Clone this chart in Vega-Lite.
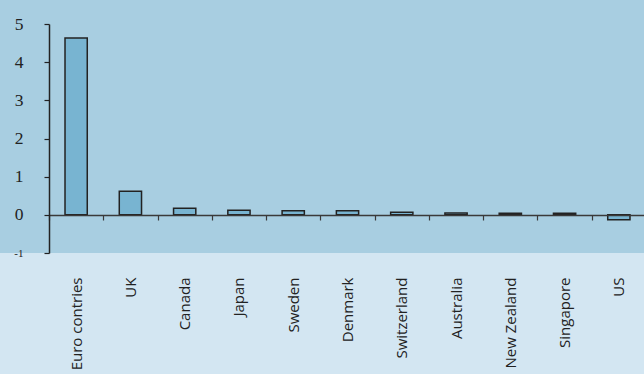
{
  "$schema": "https://vega.github.io/schema/vega-lite/v6.json",
  "width": 644,
  "height": 374,
  "autosize": "none",
  "padding": 0,
  "background": "#d3e6f2",
  "config": {"view": {"stroke": null}},
  "datasets": {
    "band": [{"top": 6, "bottom": -1}],
    "gap": [
      {"country": "Euro contries", "value": 4.63},
      {"country": "UK", "value": 0.62},
      {"country": "Canada", "value": 0.17},
      {"country": "Japan", "value": 0.12},
      {"country": "Sweden", "value": 0.11},
      {"country": "Denmark", "value": 0.11},
      {"country": "Switzerland", "value": 0.07},
      {"country": "Australia", "value": 0.05},
      {"country": "New Zealand", "value": 0.04},
      {"country": "Singapore", "value": 0.04},
      {"country": "US", "value": -0.13}
    ]
  },
  "resolve": {"axis": {"y": "independent"}},
  "layer": [
    {
      "data": {"name": "band"},
      "mark": {"type": "rect", "color": "#a8cee1", "clip": false},
      "encoding": {
        "y": {"field": "top", "type": "quantitative", "axis": null,
              "scale": {"domain": [-1, 5], "range": [253, 24], "nice": false, "zero": false}},
        "y2": {"field": "bottom"}
      }
    },
    {
      "data": {"name": "gap"},
      "mark": {"type": "bar", "fill": "#78b4d1", "stroke": "#222222", "strokeWidth": 1.5, "width": {"band": 0.41}},
      "encoding": {
        "x": {
          "field": "country", "type": "nominal", "sort": null,
          "scale": {"range": [49, 646], "paddingInner": 0, "paddingOuter": 0},
          "axis": {
            "title": null, "orient": "bottom", "offset": -159, "zindex": 1,
            "domainColor": "#3a3a3a", "domainWidth": 1.5,
            "tickBand": "extent", "tickSize": 5, "tickColor": "#3a3a3a", "tickWidth": 1.2,
            "labelAngle": -90, "labelAlign": "right", "labelBaseline": "middle",
            "labelPadding": 57, "labelFont": "Open Sans", "labelFontSize": 15,
            "labelColor": "#222222", "labelOverlap": false, "labelLimit": 0
          }
        },
        "y": {
          "field": "value", "type": "quantitative",
          "scale": {"domain": [-1, 5], "range": [253, 24], "nice": false, "zero": false},
          "axis": {
            "title": null, "orient": "left", "offset": -49, "grid": false, "zindex": 1,
            "values": [-1, 0, 1, 2, 3, 4, 5],
            "labelExpr": "datum.value < 0 ? '-' + abs(datum.value) : datum.label",
            "domainColor": "#222222", "domainWidth": 1.5,
            "tickSize": 5, "tickColor": "#222222", "tickWidth": 1.2,
            "labelPadding": 21, "labelFont": "Liberation Sans Narrow",
            "labelFontSize": {"condition": {"test": "datum.value == -1", "value": 11}, "value": 17.5},
            "labelColor": "#222222", "labelBaseline": "middle"
          }
        }
      }
    }
  ]
}
